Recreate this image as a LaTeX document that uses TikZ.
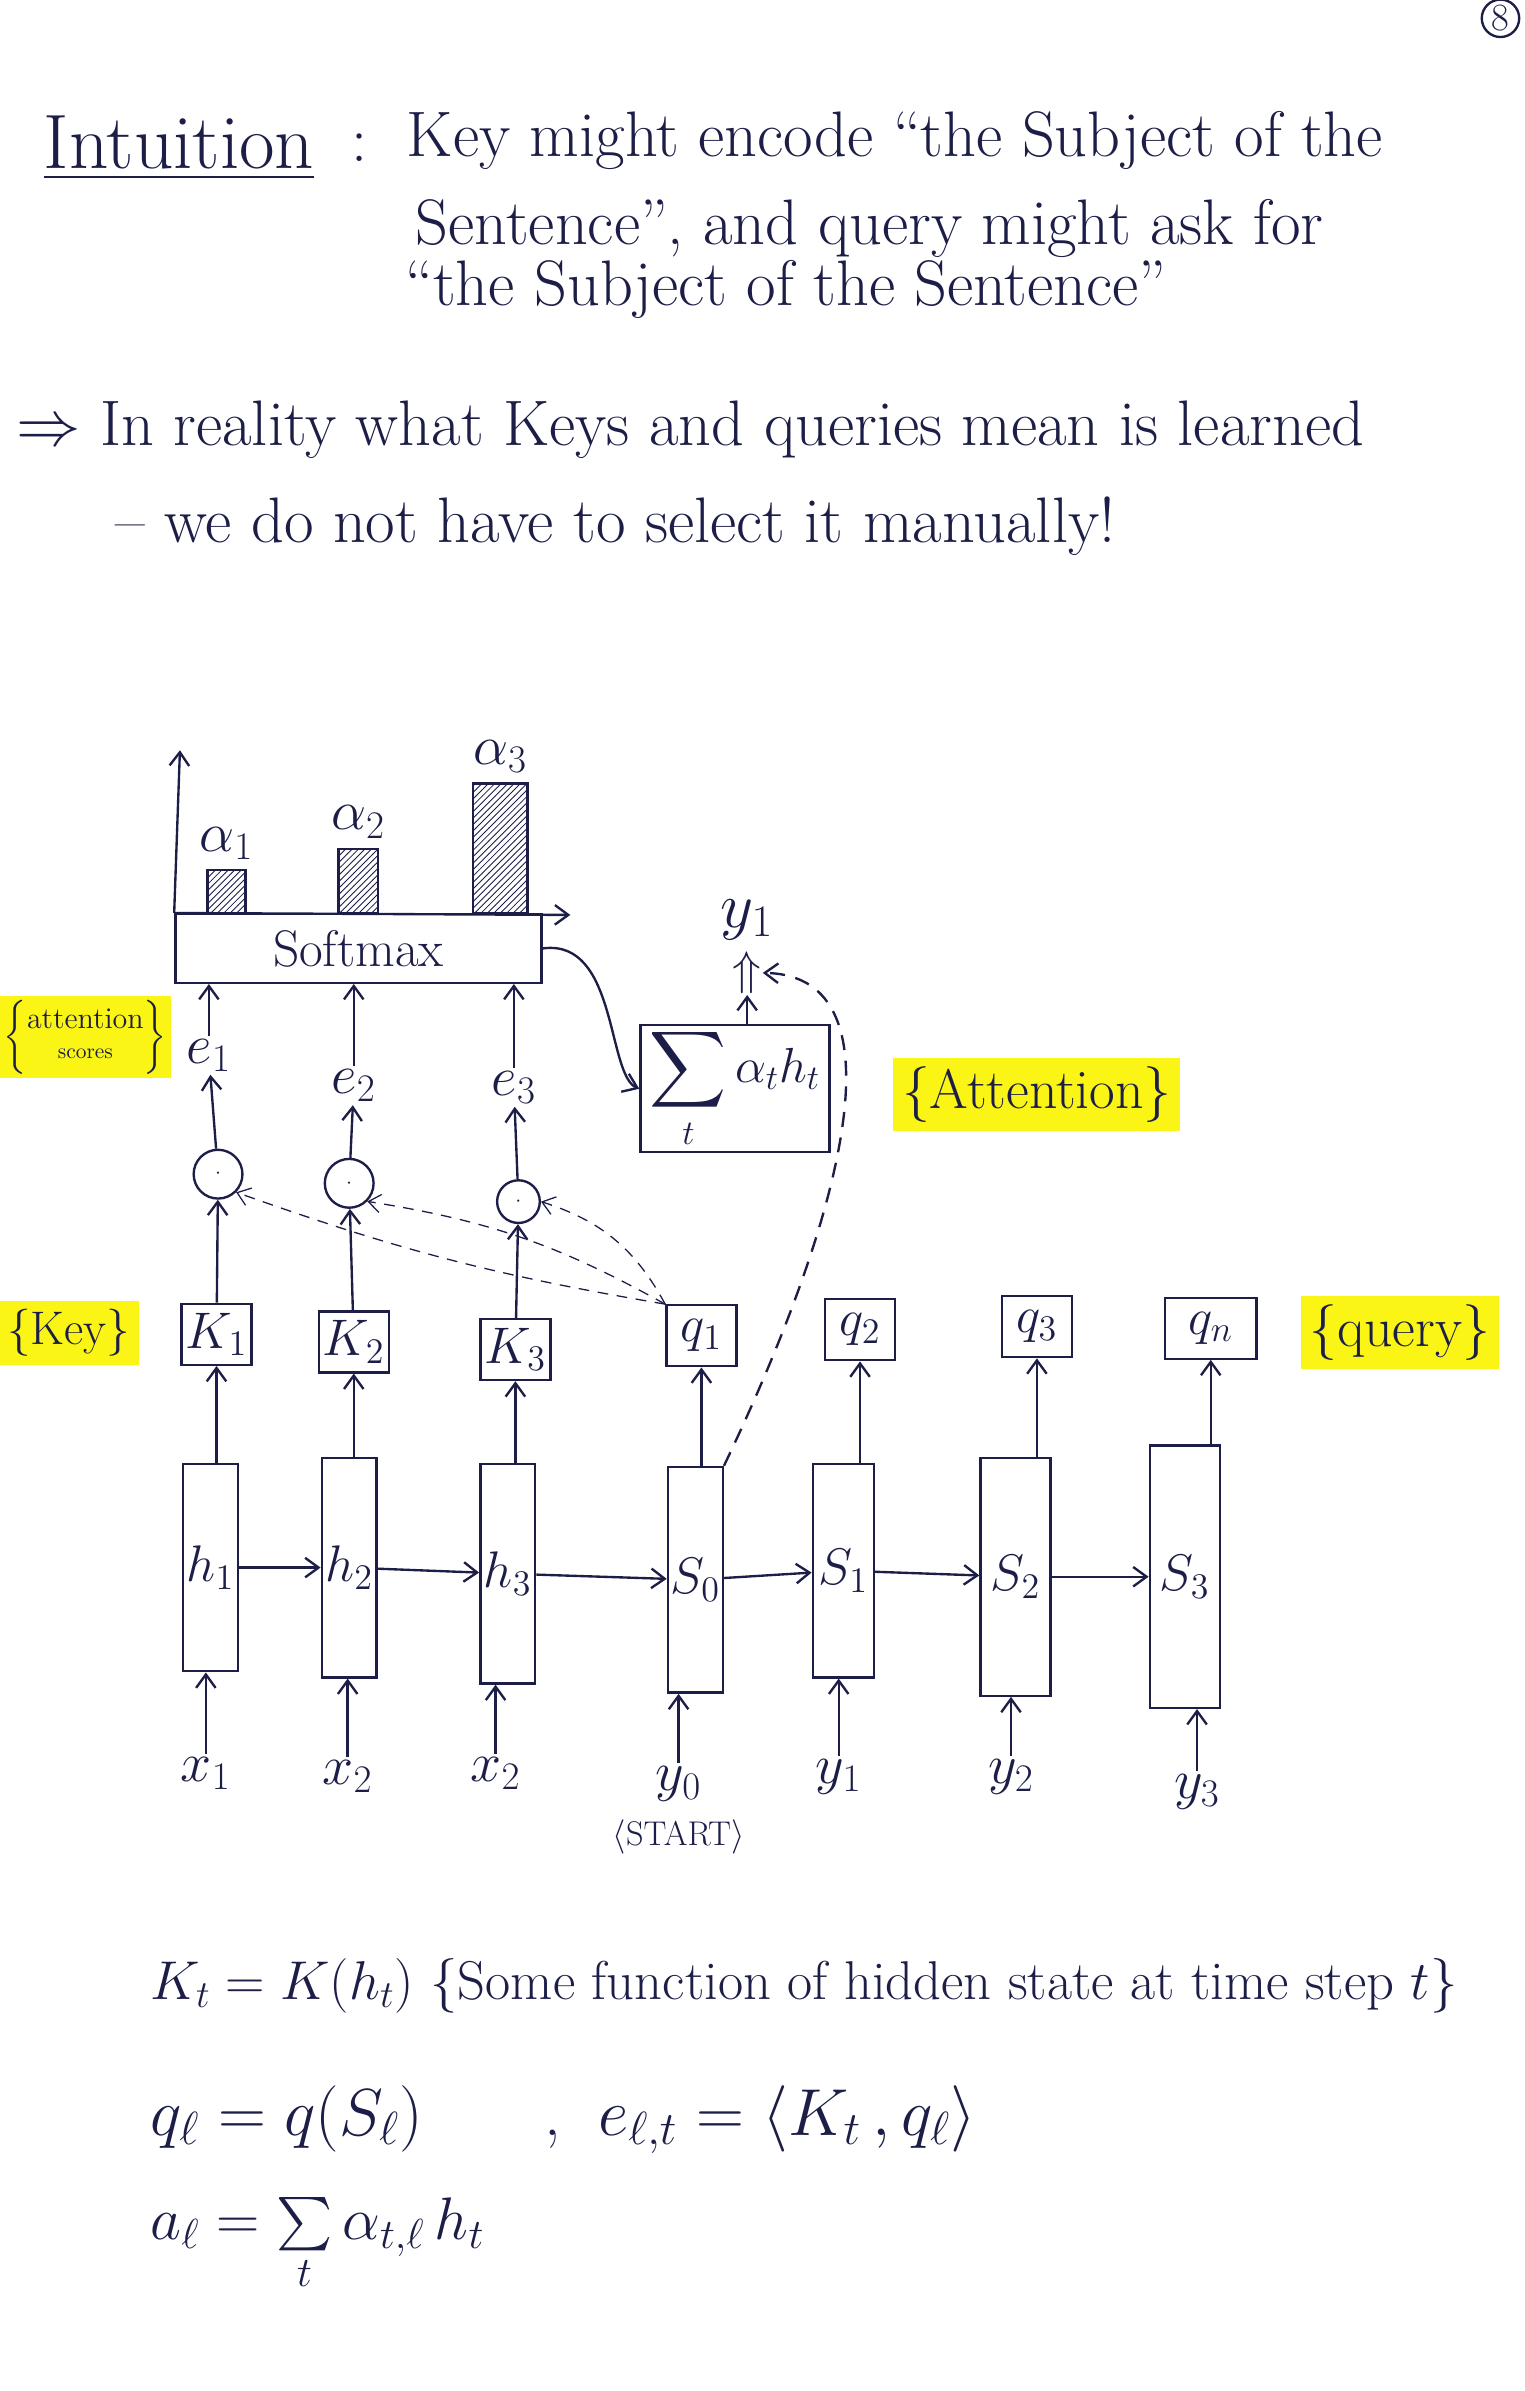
\RequirePackage{fix-cm}
\documentclass[tikz,border=0pt]{standalone}
\usepackage{amsmath}
\usepackage{fontspec}
\usepackage{tikz}
\usetikzlibrary{arrows.meta, positioning, patterns, calc}

\definecolor{ink}{RGB}{28,30,72}
\definecolor{marker}{RGB}{250,245,20}

\begin{document}
\begin{tikzpicture}[
  x=0.25mm, y=-0.25mm, color=ink, line width=1.1pt,
  txt/.style={anchor=west, inner sep=0pt, font=\fontsize{30}{36}\selectfont},
  eqn/.style={anchor=west, inner sep=0pt, font=\fontsize{25.5}{30}\selectfont},
  lbl/.style={inner sep=1pt, font=\fontsize{26}{30}\selectfont},
  cell/.style={draw, minimum width=9mm, inner sep=0pt, font=\fontsize{24}{28}\selectfont},
  vecbox/.style={draw, minimum width=11.5mm, minimum height=10mm, inner sep=0pt, font=\fontsize{24}{28}\selectfont},
  dotp/.style={draw, circle, minimum size=8mm, inner sep=0pt},
  bar/.style={draw, pattern=north east lines, pattern color=ink, anchor=south, inner sep=0pt},
  marked/.style={fill=marker, inner sep=4pt},
  arr/.style={-{Straight Barb[length=2.2mm, width=3.2mm]}},
  hint/.style={dash pattern=on 5pt off 4pt, line width=0.6pt, -{Straight Barb[length=2mm, width=3mm]}}
]
\useasboundingbox (0,0) rectangle (1000,1568);

% note at the top
\node[draw, circle, inner sep=1pt, font=\fontsize{18}{22}\selectfont] (page) at (984,12) {8};
\node[txt, font=\fontsize{36}{42}\selectfont] (title) at (28,97) {\underline{Intuition}};
\node[txt] (colon) at (230,97) {:};
\node[txt] (l1) at (266,92) {Key might encode “the Subject of the};
\node[txt] (l2) at (272,150) {Sentence”, and query might ask for};
\node[txt] (l3) at (265,190) {“the Subject of the Sentence”};
\node[txt] (l4) at (10,282) {$\Rightarrow$ In reality what Keys and queries mean is learned};
\node[txt] (l5) at (75,345) {– we do not have to select it manually!};

% softmax and the weights
\node[draw, minimum width=60mm, minimum height=11.25mm, font=\fontsize{24}{28}\selectfont] (soft) at (235,622) {Softmax};
\coordinate (ytip) at (118,492);
\coordinate (xtip) at (374,600);
\draw[arr] (soft.north west) -- (ytip);
\draw[arr] (soft.north west) -- (xtip);
\node[bar, minimum width=6.25mm, minimum height=7mm] (b1) at (148.5,599.5) {};
\node[bar, minimum width=6.5mm, minimum height=10.5mm] (b2) at (235,599.5) {};
\node[bar, minimum width=9mm, minimum height=21.25mm] (b3) at (328,599.5) {};
\node[lbl, above=1mm of b1] (a1) {$\alpha_1$};
\node[lbl, above=1mm of b2] (a2) {$\alpha_2$};
\node[lbl, above=1mm of b3] (a3) {$\alpha_3$};

% scores
\node[lbl] (e1) at (137,692) {$e_1$};
\node[lbl] (e2) at (232,712) {$e_2$};
\node[lbl] (e3) at (337,713) {$e_3$};
\node[dotp] (c1) at (143,770) {$\cdot$};
\node[dotp] (c2) at (229,776) {$\cdot$};
\node[dotp, minimum size=7mm] (c3) at (340,788) {$\cdot$};
\draw[arr] (e1) -- (e1 |- soft.south);
\draw[arr] (e2) -- (e2 |- soft.south);
\draw[arr] (e3) -- (e3 |- soft.south);
\draw[arr] (c1) -- (e1);
\draw[arr] (c2) -- (e2);
\draw[arr] (c3) -- (e3);

% context
\node[draw, minimum width=31mm, minimum height=18mm, inner sep=1pt, font=\fontsize{23}{27}\selectfont] (sum) at (482,714) {$\displaystyle\sum_t \alpha_t h_t$};
\node[font=\fontsize{22}{26}\selectfont, inner sep=0pt] (upa) at (490,638) {$\Uparrow$};
\node[lbl, font=\fontsize{30}{34}\selectfont] (yout) at (490,603) {$y_1$};
\draw[arr] (soft.east) .. controls (405,615) and (398,705) .. (sum.west);
\draw[arr] (sum.north -| upa) -- (upa.south);

% keys and queries
\node[vecbox] (K1) at (142,875) {$K_1$};
\node[vecbox] (K2) at (232,880) {$K_2$};
\node[vecbox] (K3) at (338,885) {$K_3$};
\node[vecbox] (q1) at (460,876) {$q_1$};
\node[vecbox] (q2) at (564,872) {$q_2$};
\node[vecbox] (q3) at (680,870) {$q_3$};
\node[vecbox, minimum width=15mm] (qn) at (794,871) {$q_n$};
\draw[arr] (K1) -- (c1);
\draw[arr] (K2) -- (c2);
\draw[arr] (K3) -- (c3);
\draw[hint] (q1.north west) to[bend left=5] (c1.south east);
\draw[hint] (q1.north west) to[bend right=10] (c2.south east);
\draw[hint] (q1.north west) to[bend right=22] (c3.east);

% encoder and decoder states
\node[cell, minimum height=34mm] (h1) at (138,1028) {$h_1$};
\node[cell, minimum height=36mm] (h2) at (229,1028) {$h_2$};
\node[cell, minimum height=36mm] (h3) at (333,1032) {$h_3$};
\node[cell, minimum height=37mm] (s0) at (456,1036) {$S_0$};
\node[cell, minimum width=10mm, minimum height=35mm] (s1) at (553,1030) {$S_1$};
\node[cell, minimum width=11.5mm, minimum height=39mm] (s2) at (666,1034) {$S_2$};
\node[cell, minimum width=11.5mm, minimum height=43mm] (s3) at (777,1034) {$S_3$};
\draw[arr] (h1) -- (h2);
\draw[arr] (h2) -- (h3);
\draw[arr] (h3) -- (s0);
\draw[arr] (s0) -- (s1);
\draw[arr] (s1) -- (s2);
\draw[arr] (s2) -- (s3);
\draw[arr] (K1 |- h1.north) -- (K1.south);
\draw[arr] (K2 |- h2.north) -- (K2.south);
\draw[arr] (K3 |- h3.north) -- (K3.south);
\draw[arr] (q1 |- s0.north) -- (q1.south);
\draw[arr] (q2 |- s1.north) -- (q2.south);
\draw[arr] (q3 |- s2.north) -- (q3.south);
\draw[arr] (qn |- s3.north) -- (qn.south);
\draw[arr, dash pattern=on 7pt off 5pt] (s0.north east) .. controls (552,800) and (595,640) .. (upa.east);

% inputs
\node[lbl] (x1) at (135,1163) {$x_1$};
\node[lbl] (x2) at (228,1165) {$x_2$};
\node[lbl] (x3) at (325,1163) {$x_2$};
\node[lbl] (y0) at (445,1170) {$y_0$};
\node[lbl] (y1) at (550,1165) {$y_1$};
\node[lbl] (y2) at (663,1165) {$y_2$};
\node[lbl] (y3) at (785,1175) {$y_3$};
\node[below=1mm of y0, font=\fontsize{16}{20}\selectfont] (start) {$\langle$START$\rangle$};
\draw[arr] (x1) -- (x1 |- h1.south);
\draw[arr] (x2) -- (x2 |- h2.south);
\draw[arr] (x3) -- (x3 |- h3.south);
\draw[arr] (y0) -- (y0 |- s0.south);
\draw[arr] (y1) -- (y1 |- s1.south);
\draw[arr] (y2) -- (y2 |- s2.south);
\draw[arr] (y3) -- (y3 |- s3.south);

% highlighted remarks
\node[marked, inner sep=2pt, font=\fontsize{14}{16}\selectfont] (scores) at (56,680) {$\left\{\begin{tabular}{@{}c@{}}attention\\[-2pt]{\fontsize{10}{12}\selectfont scores}\end{tabular}\right\}$};
\node[marked, font=\fontsize{26}{30}\selectfont] (attn) at (680,718) {\{Attention\}};
\node[marked, font=\fontsize{22}{26}\selectfont] (keys) at (45,874) {\{Key\}};
\node[marked, font=\fontsize{26}{30}\selectfont] (query) at (918,874) {\{query\}};

% definitions
\node[eqn] (eqk) at (98,1302) {$K_t = K(h_t)$ \{Some function of hidden state at time step $t$\}};
\node[eqn, font=\fontsize{31}{36}\selectfont] (eqq) at (98,1390) {$q_\ell = q(S_\ell)$\hspace{20mm},\hspace{6mm}$e_{\ell,t} = \langle K_t\,, q_\ell\rangle$};
\node[eqn, font=\fontsize{28}{32}\selectfont] (eqa) at (98,1472) {$a_\ell = \sum\limits_t \alpha_{t,\ell}\, h_t$};
\end{tikzpicture}
\end{document}
